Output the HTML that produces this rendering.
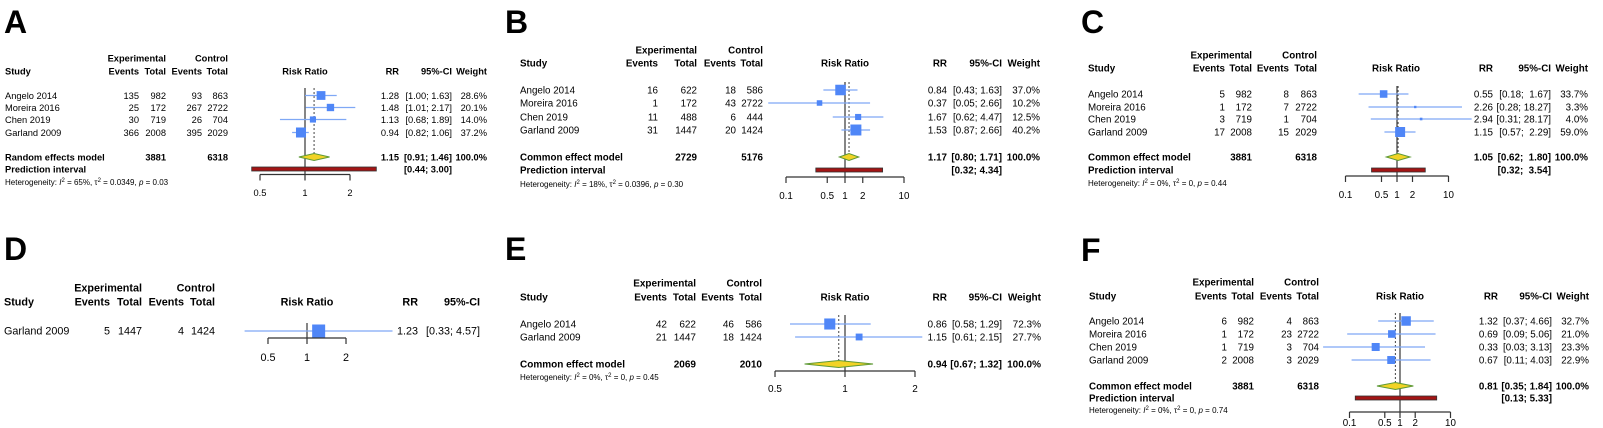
<!DOCTYPE html>
<html><head><meta charset="utf-8"><style>
html,body{margin:0;padding:0;background:#fff;}
svg{display:block;font-family:"Liberation Sans",Arial,sans-serif;}
text{white-space:pre;}
</style></head><body>
<svg id="fig" width="1603" height="428" viewBox="0 0 1603 428" xmlns="http://www.w3.org/2000/svg"></svg>
<script>
// ---------- data ----------
const studiesA=["Angelo 2014","Moreira 2016","Chen 2019","Garland 2009"];
const expEvA=[135,25,30,366], expTotA=[982,172,719,2008], ctlEvA=[93,267,26,395], ctlTotA=[863,2722,704,2029];
const rrA=[1.28,1.48,1.13,0.94], loA=[1.00,1.01,0.68,0.82], hiA=[1.63,2.17,1.89,1.06], wA=[28.6,20.1,14.0,37.2];
const sumA=[1.15,0.91,1.46], predA=[0.44,3.00], totA=[3881,6318], hetA=["65%","0.0349","0.03"], ticksA=[0.5,1,2];

const studiesB=["Angelo 2014","Moreira 2016","Chen 2019","Garland 2009"];
const expEvB=[16,1,11,31], expTotB=[622,172,488,1447], ctlEvB=[18,43,6,20], ctlTotB=[586,2722,444,1424];
const rrB=[0.84,0.37,1.67,1.53], loB=[0.43,0.05,0.62,0.87], hiB=[1.63,2.66,4.47,2.66], wB=[37.0,10.2,12.5,40.2];
const sumB=[1.17,0.80,1.71], predB=[0.32,4.34], totB=[2729,5176], hetB=["18%","0.0396","0.30"], ticksB=[0.1,0.5,1,2,10];

const studiesC=["Angelo 2014","Moreira 2016","Chen 2019","Garland 2009"];
const expEvC=[5,1,3,17], expTotC=[982,172,719,2008], ctlEvC=[8,7,1,15], ctlTotC=[863,2722,704,2029];
const rrC=[0.55,2.26,2.94,1.15], loC=[0.18,0.28,0.31,0.57], hiC=[1.67,18.27,28.17,2.29], wC=[33.7,3.3,4.0,59.0];
const sumC=[1.05,0.62,1.80], predC=[0.32,3.54], totC=[3881,6318], hetC=["0%","0","0.44"], ticksC=[0.1,0.5,1,2,10];

const studiesD=["Garland 2009"];
const expEvD=[5], expTotD=[1447], ctlEvD=[4], ctlTotD=[1424];
const rrD=[1.23], loD=[0.33], hiD=[4.57], wD=[100];
const ticksD=[0.5,1,2];

const studiesE=["Angelo 2014","Garland 2009"];
const expEvE=[42,21], expTotE=[622,1447], ctlEvE=[46,18], ctlTotE=[586,1424];
const rrE=[0.86,1.15], loE=[0.58,0.61], hiE=[1.29,2.15], wE=[72.3,27.7];
const sumE=[0.94,0.67,1.32], totE=[2069,2010], hetE=["0%","0","0.45"], ticksE=[0.5,1,2];

const studiesF=["Angelo 2014","Moreira 2016","Chen 2019","Garland 2009"];
const expEvF=[6,1,1,2], expTotF=[982,172,719,2008], ctlEvF=[4,23,3,3], ctlTotF=[863,2722,704,2029];
const rrF=[1.32,0.69,0.33,0.67], loF=[0.37,0.09,0.03,0.11], hiF=[4.66,5.06,3.13,4.03], wF=[32.7,21.0,23.3,22.9];
const sumF=[0.81,0.35,1.84], predF=[0.13,5.33], totF=[3881,6318], hetF=["0%","0","0.74"], ticksF=[0.1,0.5,1,2,10];

// ---------- layout ----------
const NS="http://www.w3.org/2000/svg";
const svg=document.getElementById('fig');
let FS=9.5;
function mk(tag,attrs,parent,txt){const e=document.createElementNS(NS,tag);for(const k in attrs)e.setAttribute(k,attrs[k]);if(txt!==undefined)e.textContent=txt;(parent||svg).appendChild(e);return e;}
function txt(g,x,y,s,opt){opt=opt||{};const t=mk('text',{x:x,y:y,'font-size':opt.fs||FS,'font-weight':opt.b?'bold':'normal','text-anchor':opt.a||'start',fill:'#000'},g,s);return t;}
function f2(v){return v.toFixed(2);}
function ciStr(lo,hi,padL){let h=f2(hi);while(h.length<padL)h=' '+h;return '['+f2(lo)+'; '+h+']';}

function panel(P,D){
  FS=P.fs;
  const g=mk('g',{});
  
  
  const X=v=>P.x1+P.dec*Math.log10(v);
  txt(g,P.letterX,P.letterY,P.letter,{fs:32,b:true,name:'panel-letter'});
  txt(g,P.cols[1],P.h1,'Experimental',{b:true,a:'end',name:'experimental-header'});
  txt(g,P.cols[3],P.h1,'Control',{b:true,a:'end',name:'control-header'});
  txt(g,P.studyX,P.h2,'Study',{b:true,name:'study-header'});
  ['Events','Total','Events','Total'].forEach((s,i)=>txt(g,P.cols[i],P.h2,s,{b:true,a:'end',name:'column-header'}));
  txt(g,P.rrHead,P.h2,'Risk Ratio',{b:true,a:'middle',name:'risk-ratio-header'});
  txt(g,P.rrX,P.h2,'RR',{b:true,a:'end',name:'rr-header'});
  txt(g,P.ciX,P.h2,'95%-CI',{b:true,a:'end',name:'ci-header'});
  if(D.w.length>1||D.sum) txt(g,P.wX,P.h2,'Weight',{b:true,a:'end',name:'weight-header'});
  let padL=4;
  D.hi.concat(D.sum?[D.sum[2]]:[],D.pred?[D.pred[1]]:[]).forEach(v=>padL=Math.max(padL,f2(v).length));
  const ref=mk('line',{x1:X(1),x2:X(1),y1:P.refTop,y2:P.axisY,stroke:'#444','stroke-width':1.3},g);
  
  if(D.sum){
    const dl=mk('line',{x1:X(D.sum[0]),x2:X(D.sum[0]),y1:P.refTop,y2:P.sumY,stroke:'#444','stroke-width':1,'stroke-dasharray':'2,2'},g);
    
  }
  D.studies.forEach((s,i)=>{
    const y=P.rows[i];
    txt(g,P.studyX,y+3.5,s,{name:'study-name'});
    [D.ev[i],D.et[i],D.ce[i],D.ct[i]].forEach((v,j)=>txt(g,P.cols[j],y+3.5,String(v),{a:'end',name:'count-value'}));
    txt(g,P.rrX,y+3.5,f2(D.rr[i]),{a:'end',name:'rr-value'});
    txt(g,P.ciX,y+3.5,ciStr(D.lo[i],D.hi[i],padL),{a:'end',name:'ci-value'});
    if(D.w.length>1) txt(g,P.wX,y+3.5,D.w[i].toFixed(1)+'%',{a:'end',name:'weight-value'});
    const l=mk('line',{x1:X(D.lo[i]),x2:X(D.hi[i]),y1:y,y2:y,stroke:'#7fa8f5','stroke-width':1.2},g);
    
    const sz=P.sq*Math.sqrt(D.w[i]);
    const r=mk('rect',{x:X(D.rr[i])-sz/2,y:y-sz/2,width:sz,height:sz,fill:'#4f86f7'},g);
    
  });
  if(D.sum){
    const y=P.sumY;
    txt(g,P.studyX,y+3.5,D.model,{b:true,name:'model-label'});
    txt(g,P.cols[1],y+3.5,String(D.tot[0]),{b:true,a:'end',name:'exp-total'});
    txt(g,P.cols[3],y+3.5,String(D.tot[1]),{b:true,a:'end',name:'ctl-total'});
    txt(g,P.rrX,y+3.5,f2(D.sum[0]),{b:true,a:'end',name:'summary-rr'});
    txt(g,P.ciX,y+3.5,ciStr(D.sum[1],D.sum[2],padL),{b:true,a:'end',name:'summary-ci'});
    txt(g,P.wX,y+3.5,'100.0%',{b:true,a:'end',name:'summary-weight'});
    const dm=mk('polygon',{points:`${X(D.sum[1])},${y} ${X(D.sum[0])},${y-3.5} ${X(D.sum[2])},${y} ${X(D.sum[0])},${y+3.5}`,fill:'#f2d326',stroke:'#5f9a36','stroke-width':1},g);
    
    if(D.pred){
      const py=P.predY;
      txt(g,P.studyX,py+3.5,'Prediction interval',{b:true,name:'prediction-label'});
      txt(g,P.ciX,py+3.5,ciStr(D.pred[0],D.pred[1],padL),{b:true,a:'end',name:'prediction-ci'});
      const pr=mk('rect',{x:X(D.pred[0]),y:py-2,width:X(D.pred[1])-X(D.pred[0]),height:4,fill:'#a31515',stroke:'#333','stroke-width':0.8},g);
      
    }
    const h=mk('text',{x:P.studyX,y:P.hetY,'font-size':8,fill:'#000'},g);
    
    const parts=[['Heterogeneity: ',0],['I',1],['2',2],[' = '+D.het[0]+', \u03c4',0],['2',2],[' = '+D.het[1]+', ',0],['p',1],[' = '+D.het[2],0]];
    parts.forEach(p=>{const ts=mk('tspan',{},h,p[0]);if(p[1]==1)ts.setAttribute('font-style','italic');if(p[1]==2){ts.setAttribute('baseline-shift','super');ts.setAttribute('font-size',6);}});
  }
  const ax=mk('g',{},g);
  
  const ta=D.ticks;
  mk('line',{x1:X(ta[0]),x2:X(ta[ta.length-1]),y1:P.axisY,y2:P.axisY,stroke:'#333','stroke-width':1.2},ax);
  ta.forEach(v=>{
    mk('line',{x1:X(v),x2:X(v),y1:P.axisY,y2:P.axisY+6,stroke:'#333','stroke-width':1.2},ax);
    txt(ax,X(v),P.tickLab,String(v),{a:'middle',name:'tick-label'});
  });
}

panel({letter:'A',fs:9.3,letterX:4,letterY:33,studyX:5,cols:[139,166,202,228],h1:61.5,h2:74.5,rrHead:305,rrX:399,ciX:452,wX:487,rows:[95.5,107.5,119.5,132.5],sumY:157,predY:169,hetY:185,axisY:174.5,tickLab:196,x1:305,dec:149.5,refTop:88,sq:1.64},
 {studies:studiesA,ev:expEvA,et:expTotA,ce:ctlEvA,ct:ctlTotA,rr:rrA,lo:loA,hi:hiA,w:wA,sum:sumA,pred:predA,tot:totA,het:hetA,ticks:ticksA,model:'Random effects model'});
panel({letter:'B',fs:9.8,letterX:505,letterY:33,studyX:520,cols:[658,697,736,763],h1:53.5,h2:66.5,rrHead:845,rrX:947,ciX:1002,wX:1040,rows:[90,103,117,130],sumY:157,predY:170,hetY:187,axisY:177,tickLab:199,x1:845,dec:59,refTop:82,sq:1.73},
 {studies:studiesB,ev:expEvB,et:expTotB,ce:ctlEvB,ct:ctlTotB,rr:rrB,lo:loB,hi:hiB,w:wB,sum:sumB,pred:predB,tot:totB,het:hetB,ticks:ticksB,model:'Common effect model'});
panel({letter:'C',fs:9.8,letterX:1081,letterY:33,studyX:1088,cols:[1225,1252,1289,1317],h1:58.5,h2:71.5,rrHead:1396,rrX:1493,ciX:1551,wX:1588,rows:[94,107,119,132],sumY:157,predY:170,hetY:186,axisY:176,tickLab:198,x1:1397,dec:51.5,refTop:86,sq:1.3},
 {studies:studiesC,ev:expEvC,et:expTotC,ce:ctlEvC,ct:ctlTotC,rr:rrC,lo:loC,hi:hiC,w:wC,sum:sumC,pred:predC,tot:totC,het:hetC,ticks:ticksC,model:'Common effect model'});
panel({letter:'D',fs:10.8,letterX:4,letterY:260,studyX:4,cols:[110,142,184,215],h1:291.5,h2:305.5,rrHead:307,rrX:418,ciX:480,wX:520,rows:[331],hetY:0,axisY:338,tickLab:361,x1:307,dec:129.6,refTop:323,sq:1.3},
 {studies:studiesD,ev:expEvD,et:expTotD,ce:ctlEvD,ct:ctlTotD,rr:rrD,lo:loD,hi:hiD,w:wD,ticks:ticksD});
panel({letter:'E',fs:10,letterX:505,letterY:260,studyX:520,cols:[667,696,734,762],h1:286.5,h2:300.5,rrHead:845,rrX:947,ciX:1002,wX:1041,rows:[324,337],sumY:364,hetY:380,axisY:371,tickLab:392,x1:845,dec:232.5,refTop:315,sq:1.3},
 {studies:studiesE,ev:expEvE,et:expTotE,ce:ctlEvE,ct:ctlTotE,rr:rrE,lo:loE,hi:hiE,w:wE,sum:sumE,tot:totE,het:hetE,ticks:ticksE,model:'Common effect model'});
panel({letter:'F',fs:9.8,letterX:1081,letterY:261,studyX:1089,cols:[1227,1254,1292,1319],h1:285.5,h2:299.5,rrHead:1400,rrX:1498,ciX:1552,wX:1589,rows:[321,334,347,360],sumY:386,predY:398,hetY:413,axisY:412,tickLab:426,x1:1400,dec:50.5,refTop:313,sq:1.66},
 {studies:studiesF,ev:expEvF,et:expTotF,ce:ctlEvF,ct:ctlTotF,rr:rrF,lo:loF,hi:hiF,w:wF,sum:sumF,pred:predF,tot:totF,het:hetF,ticks:ticksF,model:'Common effect model'});
</script>
</body></html>
